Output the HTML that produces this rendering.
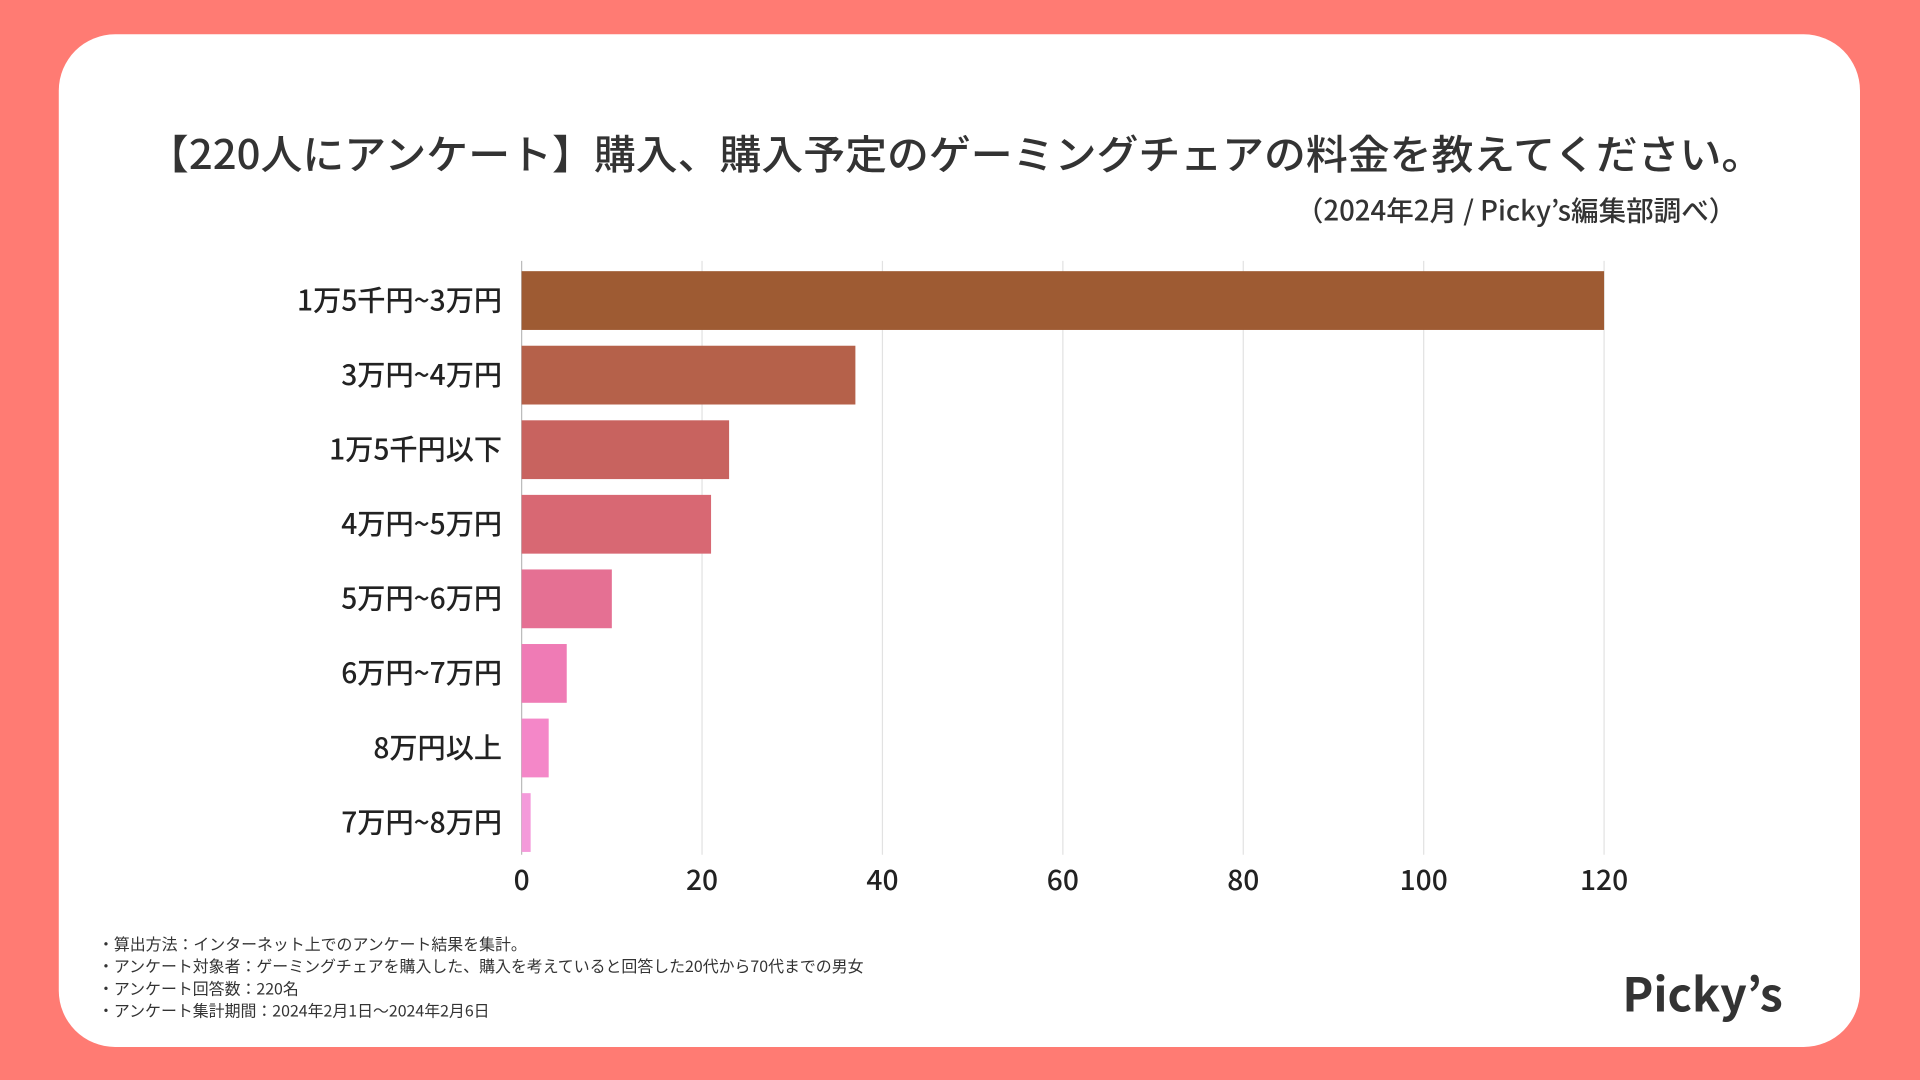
<!DOCTYPE html>
<html><head><meta charset="utf-8"><style>
html,body{margin:0;padding:0;background:#FF7B73;}
svg{display:block;}
text{font-family:"Noto Sans CJK JP","Liberation Sans",sans-serif;}
</style></head><body>
<svg id="chart" width="1920" height="1080" viewBox="0 0 1568 882">
<rect x="0" y="0" width="1568" height="882" fill="#FF7B73"/>
<rect x="48" y="28" width="1471" height="827" rx="46" fill="#fff"/>
<text x="780" y="138" text-anchor="middle" font-size="33" font-weight="500" fill="#333" textLength="1320" lengthAdjust="spacingAndGlyphs">【220人にアンケート】購入、購入予定のゲーミングチェアの料金を教えてください。</text>
<text x="1418" y="180" text-anchor="end" font-size="22.5" font-weight="500" fill="#333">（2024年2月 / Picky’s編集部調べ）</text>
<g id="grid"></g><g id="bars"></g><g id="labels"></g><g id="ticks"></g>
<g font-size="13" fill="#333">
<text x="80" y="776">・算出方法：インターネット上でのアンケート結果を集計。</text>
<text x="80" y="794">・アンケート対象者：ゲーミングチェアを購入した、購入を考えていると回答した20代から70代までの男女</text>
<text x="80" y="812">・アンケート回答数：220名</text>
<text x="80" y="830">・アンケート集計期間：2024年2月1日〜2024年2月6日</text>
</g>
<text x="1456" y="826" text-anchor="end" font-size="38" font-weight="bold" fill="#333">Picky’s</text>
</svg>
<script>
const categories=["1万5千円~3万円","3万円~4万円","1万5千円以下","4万円~5万円","5万円~6万円","6万円~7万円","8万円以上","7万円~8万円"];
const values=[120,37,23,21,10,5,3,1];
const colors=["#9E5B33","#B5614A","#C8635F","#D86873","#E57093","#EF7BB5","#F487C8","#F49ADA"];
const tickValues=[0,20,40,60,80,100,120];
const NS="http://www.w3.org/2000/svg";
const x0=426,x1=1310,xmax=120,yTop=215,step=60.9,barH=48;
function xs(v){return x0+(v/xmax)*(x1-x0);}
function yc(i){return yTop+step*i+step/2;}
function mk(t,a,p){const e=document.createElementNS(NS,t);for(const k in a)e.setAttribute(k,a[k]);document.getElementById(p).appendChild(e);return e;}
tickValues.forEach(t=>{
 const g=mk("line",{x1:xs(t),x2:xs(t),y1:213,y2:698,stroke:t===0?"#bbb":"#e2e2e2","stroke-width":1},"grid");
 
 
 const l=mk("text",{x:xs(t),y:727,"text-anchor":"middle","font-size":23,"font-weight":500,fill:"#222"},"ticks");
 l.textContent=t;
 
 
});
categories.forEach((c,i)=>{
 const r=mk("rect",{x:x0,y:yc(i)-barH/2,width:xs(values[i])-x0,height:barH,fill:colors[i]},"bars");
 
 
 const l=mk("text",{x:410,y:yc(i)+8,"text-anchor":"end","font-size":23,"font-weight":500,fill:"#222"},"labels");
 l.textContent=c;
 
 
});
</script>
</body></html>
